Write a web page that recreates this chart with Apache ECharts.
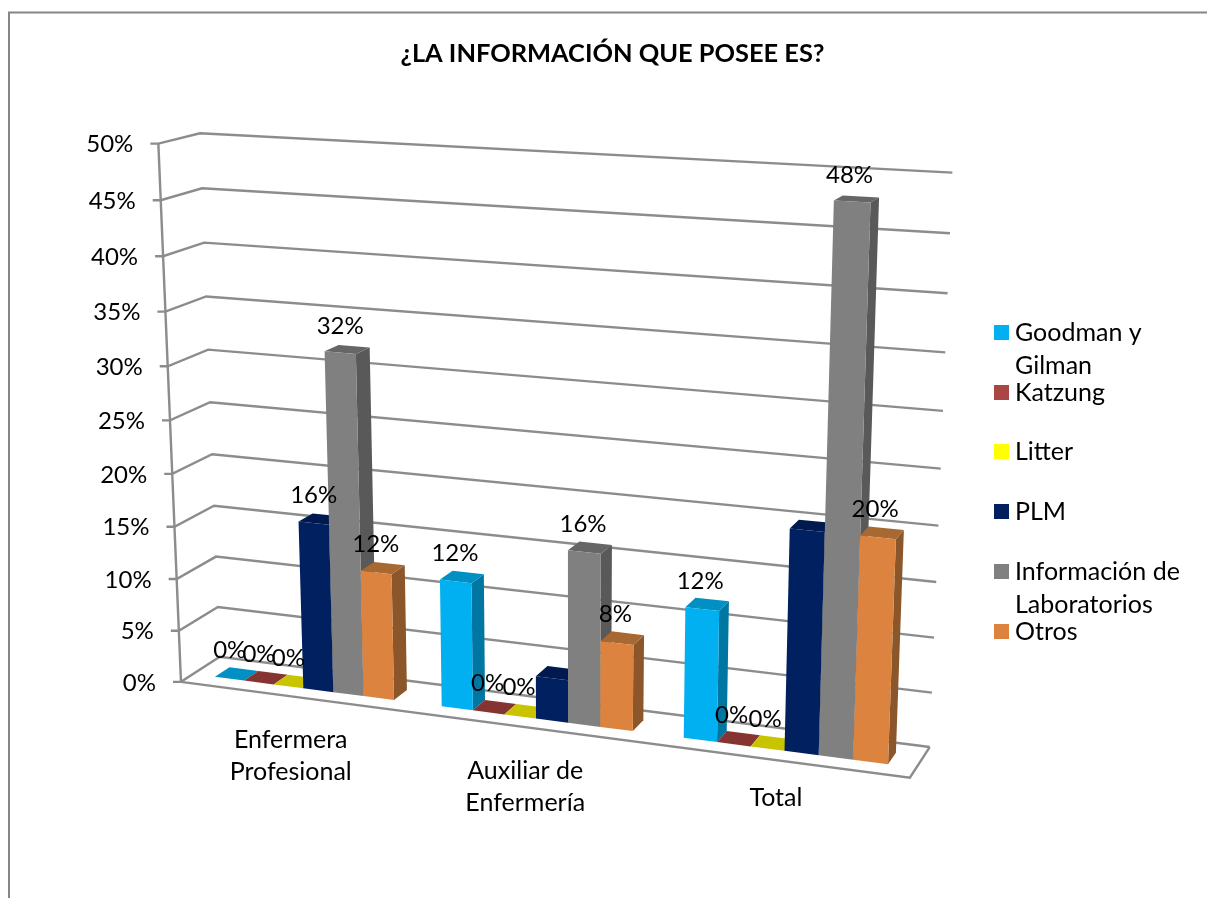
<!DOCTYPE html>
<html><head><meta charset="utf-8">
<style>html,body{margin:0;padding:0;background:#fff}#c{width:1207px;height:898px}</style>
<script src="https://cdn.jsdelivr.net/npm/echarts@6/dist/echarts.min.js"></script>
</head><body><div id="c"></div>
<script>
const titleText = '¿LA INFORMACIÓN QUE POSEE ES?';
const categories = ['Enfermera\nProfesional', 'Auxiliar de\nEnfermería', 'Total'];
const tickValues = [0, 5, 10, 15, 20, 25, 30, 35, 40, 45, 50];
const goodman = [0, 12, 12];
const katzung = [0, 0, 0];
const litter = [0, 0, 0];
const plm = [16, 4, 20];
const informacion = [32, 16, 48];
const otros = [12, 8, 20];
const plmLabelled = [true, false, false];

const FONT = 'Lato, Carlito, sans-serif';
const W = 1207, H = 898;
// Perspective camera of the 3D box, calibrated on the box corners: [u, depth, height, px, py]
const anchors = [
  [0,0,0,180,681],[1,0,0,910,778],[0,1,0,220,657],[1,1,0,929,747],
  [0,0,1,158.5,144],[0,1,1,200,133],[1,1,1,952,172],
  [.5,0,0,528,727],[.5,1,0,558,700],[0,0,.5,170,421],[1,1,.5,941,469]
];
function solveCamera(pts){
  const A=[],b=[];
  pts.forEach(([X,Y,Z,x,y])=>{
    A.push([X,Y,Z,1,0,0,0,0,-x*X,-x*Y,-x*Z]);b.push(x);
    A.push([0,0,0,0,X,Y,Z,1,-y*X,-y*Y,-y*Z]);b.push(y);
  });
  const n=11,M=[];
  for(let i=0;i<n;i++){M[i]=[];for(let j=0;j<=n;j++){let s=0;
    for(let k=0;k<A.length;k++)s+=A[k][i]*(j<n?A[k][j]:b[k]);M[i][j]=s;}}
  for(let i=0;i<n;i++){let p=i;for(let r=i+1;r<n;r++)if(Math.abs(M[r][i])>Math.abs(M[p][i]))p=r;
    [M[i],M[p]]=[M[p],M[i]];
    for(let r=0;r<n;r++){if(r===i)continue;const f=M[r][i]/M[i][i];for(let c=i;c<=n;c++)M[r][c]-=f*M[i][c];}}
  return M.map((row,i)=>row[n]/row[i]);
}
const cam = solveCamera(anchors);
function project(u,d,v){
  const w=cam[8]*u+cam[9]*d+cam[10]*v+1;
  return [(cam[0]*u+cam[1]*d+cam[2]*v+cam[3])/w,(cam[4]*u+cam[5]*d+cam[6]*v+cam[7])/w];
}
const D0=.31, D1=.69, LEAD=.099, BAR=.1325;
const LEGEND_LH=33;
const barSeries = [
  {name:'Goodman y Gilman',values:goodman,front:'#00B0F0',side:'#0076A3',top:'#0090C4',label:()=>true,text:'\nGoodman y\nGilman',lc:332.5},
  {name:'Katzung',values:katzung,front:'#AA4644',side:'#733130',top:'#853431',label:()=>true,text:'Katzung',lc:392.5},
  {name:'Litter',values:litter,front:'#FFFF00',side:'#A8A800',top:'#C8C400',label:()=>true,text:'Litter',lc:451.5},
  {name:'PLM',values:plm,front:'#002060',side:'#001A4D',top:'#001A50',label:(i)=>plmLabelled[i],text:'PLM',lc:511.5},
  {name:'Información de Laboratorios',values:informacion,front:'#808080',side:'#595959',top:'#666666',label:()=>true,text:'\nInformación de\nLaboratorios',lc:571.5},
  {name:'Otros',values:otros,front:'#DC843F',side:'#8B572A',top:'#A86832',label:()=>true,text:'Otros',lc:631.5}
];
const poly=(points,fill,z2)=>({type:'polygon',shape:{points},style:{fill,stroke:null},z2,silent:true});
function barRender(s,si){
  return function(params,api){
    const cat=api.value(0),val=api.value(1);
    const base=api.coord([cat,0]),head=api.coord([cat,val]);
    const band=api.size([1,0])[0];
    const left=base[0]-band/2+band*(LEAD+BAR*si),right=left+band*BAR;
    const u0=left/W,u1=right/W,v=1-head[1]/H;
    const z=10+si,kids=[];
    const pf=(u,d,vv)=>project(u,d,vv);
    if(val>0){
      kids.push(poly([pf(u1,D0,0),pf(u1,D1,0),pf(u1,D1,v),pf(u1,D0,v)],s.side,z));
    }
    kids.push(poly([pf(u0,D0,v),pf(u1,D0,v),pf(u1,D1,v),pf(u0,D1,v)],s.top,z));
    if(val>0){
      kids.push(poly([pf(u0,D0,0),pf(u1,D0,0),pf(u1,D0,v),pf(u0,D0,v)],s.front,z));
    }
    if(s.label(cat)){
      const c=pf((u0+u1)/2,.5,v);
      kids.push({type:'text',z2:100,silent:true,x:c[0]-7,y:c[1]-23.5,
        style:{text:val+'%',font:'24px '+FONT,fill:'#000',align:'center',verticalAlign:'middle'}});
    }
    return {type:'group',children:kids};
  };
}
const GRID='#8C8C8C';
const line=(points,w)=>({type:'polyline',shape:{points},style:{stroke:GRID,lineWidth:w||2.4,fill:null},z2:1,silent:true});
function gridRender(params,api){
  const t=api.value(1);
  const p=api.coord([0,t]);
  const v=1-p[1]/H;
  const f=project(0,0,v),b=project(0,1,v),r=project(1,1,v);
  const kids=[line([[f[0]-8,f[1]],f,b,r])];
  if(t===0){
    const top=project(0,0,1);
    kids.push(line([top,f]));
    kids.push(line([f,project(1,0,0),r]));
  }
  kids.push({type:'text',z2:2,silent:true,x:f[0]-25,y:f[1]+1,
    style:{text:t+'%',font:'24px '+FONT,fill:'#000',align:'right',verticalAlign:'middle'}});
  return {type:'group',children:kids};
}
function catRender(params,api){
  const i=api.value(0),name=categories[i];
  const c=api.coord([i,0]);
  const p=project(c[0]/W,0,0);
  const lines=name.split('\n').length;
  return {type:'text',z2:2,silent:true,x:p[0]-2,y:p[1]+37.5+(lines-1)*22,
    style:{text:name,font:'25px '+FONT,lineHeight:32.5,fill:'#000',align:'center',verticalAlign:'middle'}};
}
const chart=echarts.init(document.getElementById('c'),null,{renderer:'canvas'});
chart.setOption({
  animation:false,
  backgroundColor:'#fff',
  title:{text:titleText,left:607.5,top:36,textAlign:'center',
    textStyle:{fontFamily:FONT,fontWeight:'bold',fontSize:25.4,color:'#000'}},
  grid:{left:0,right:0,top:0,bottom:0},
  xAxis:{type:'category',data:categories,show:false},
  yAxis:{type:'value',min:0,max:50,interval:5,show:false},
  legend:barSeries.map(s=>({
    data:[s.name],left:994,top:s.lc-s.text.split('\n').length*LEGEND_LH/2,orient:'vertical',padding:0,itemWidth:15,itemHeight:15,
    icon:'rect',selectedMode:false,
    formatter:()=>s.text,
    textStyle:{fontFamily:FONT,fontSize:25,color:'#000',lineHeight:LEGEND_LH,padding:[0,0,0,1]},
    itemStyle:{borderWidth:0}
  })),
  graphic:[{type:'polyline',silent:true,z:0,shape:{points:[[9,898],[9,12.5],[1207,12.5]]},
    style:{stroke:'#868686',lineWidth:2,fill:null}}],
  series:[
    {type:'custom',name:'grid',renderItem:gridRender,encode:{x:0,y:1},silent:true,data:tickValues.map(t=>[0,t])},
    {type:'custom',name:'categories',renderItem:catRender,encode:{x:0},silent:true,data:categories.map((c,i)=>[i,0])}
  ].concat(barSeries.map((s,si)=>({
    type:'custom',name:s.name,renderItem:barRender(s,si),encode:{x:0,y:1},silent:true,
    itemStyle:{color:s.front},
    data:s.values.map((v,i)=>[i,v])
  })))
});
</script></body></html>
